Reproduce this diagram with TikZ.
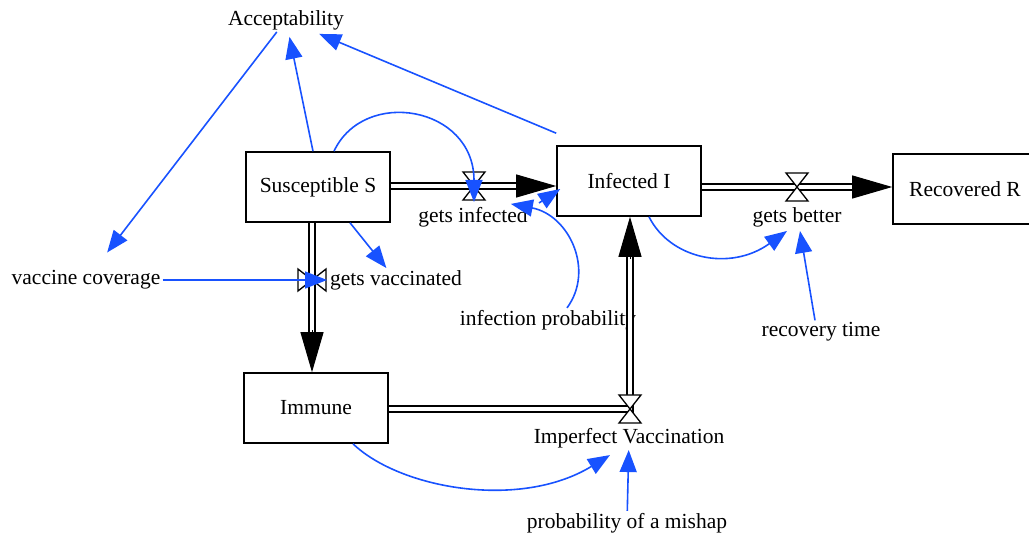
\documentclass[tikz,border=0pt]{standalone}
\usepackage{fontspec}
\setmainfont{Liberation Serif}
\usetikzlibrary{arrows.meta,calc}
\definecolor{linkblue}{RGB}{24,82,255}
\begin{document}
\begin{tikzpicture}[x=1pt, y=1pt, yscale=-1, font=\fontsize{21.5}{24}\selectfont,
  stock/.style={draw=black, line width=1.6pt, minimum width=144pt, minimum height=70pt, fill=white},
  var/.style={inner sep=2pt},
  flow/.style={draw=black, double=white, double distance=4.5pt, line width=1.5pt},
  flowhead/.style={-{Triangle[length=40pt,width=23pt]}, line width=1pt},
  link/.style={draw=linkblue, line width=1.6pt, -{Triangle[length=22pt,width=17pt]}},
  hglass/.pic={\path[draw=black, fill=white, line width=1.3pt] (-11,-14) -- (11,-14) -- (-11,14) -- (11,14) -- cycle;}]
\useasboundingbox (0,0) rectangle (1029,537);
\clip (0,0) rectangle (1029,537);
\node[stock] (S) at (318,187) {Susceptible S};
\node[stock] (I) at (629,181) {Infected I};
\node[stock] (R) at (965,189) {Recovered R};
\node[stock] (Im) at (316,408) {Immune};
\node[var] (acc) at (286,20) {Acceptability};
\node[var] (vcov) at (86,280) {vaccine coverage};
\node[var] (iprob) at (548,320) {infection probability};
\node[var] (rtime) at (821,332) {recovery time};
\node[var] (mishap) at (627,523) {probability of a mishap};
\coordinate (vInf) at (474,186);
\coordinate (vBet) at (797,187);
\coordinate (vVac) at (312,280);
\coordinate (vImp) at (630,409);
\coordinate (wedge) at (539,203);
% flows
\draw[flow] (vInf -| S.east) -- ($(vInf -| I.west)+(-38,0)$);
\draw[flowhead] ($(vInf -| I.west)+(-40,0)$) -- (vInf -| I.west);
\draw[flow] (vBet -| I.east) -- ($(vBet -| R.west)+(-38,0)$);
\draw[flowhead] ($(vBet -| R.west)+(-40,0)$) -- (vBet -| R.west);
\draw[flow] (vVac |- S.south) -- ($(vVac |- Im.north)+(0,-40)$);
\draw[flowhead] ($(vVac |- Im.north)+(0,-42)$) -- (vVac |- Im.north);
\draw[flow] (vImp -| Im.east) -- (vImp) -- ($(vImp |- I.south)+(0,40)$);
\draw[flowhead] ($(vImp |- I.south)+(0,42)$) -- (vImp |- I.south);
\pic at (vInf) {hglass};
\pic at (vBet) {hglass};
\pic[rotate=90] at (vVac) {hglass};
\pic at (vImp) {hglass};
\node[var] (lInf) at (473,217) {gets infected};
\node[var] (lBet) at (797,217) {gets better};
\node[var] (lVac) at (396,280) {gets vaccinated};
\node[var] (lImp) at (629,438) {Imperfect Vaccination};
% links
\draw[link, shorten >=20pt] (acc) -- (vcov);
\draw[link, shorten >=5pt] ([xshift=-5pt]S.north) -- (acc);
\draw[link, shorten >=5pt] ([yshift=-12pt]I.north west) -- (acc);
\draw[link] ([xshift=16pt]S.north) .. controls +(30,-64) and +(0,-96) .. ($(vInf)+(0,16)$);
\draw[link] ([xshift=32pt]S.south) -- (lVac);
\draw[link] (vcov) -- ($(vVac)+(15,0)$);
\draw[link] ([xshift=19pt]iprob.north) .. controls +(28,-38) and +(58,11) .. ($(lInf.north east)+(-19,-1)$);
\draw[link] (wedge) -- ($(I.west)+(4,8)$);
\draw[link] ([xshift=20pt]I.south) .. controls +(21,42) and +(-57,41) .. ($(lBet.south)+(-10,2)$);
\draw[link] ([xshift=-6pt]rtime.north) -- ($(lBet.south)+(3,2)$);
\draw[link] ([xshift=37pt]Im.south) .. controls +(47,45) and +(-90,55) .. ($(lImp.south)+(-19,5)$);
\draw[link] (mishap) -- (lImp);
\end{tikzpicture}
\end{document}
